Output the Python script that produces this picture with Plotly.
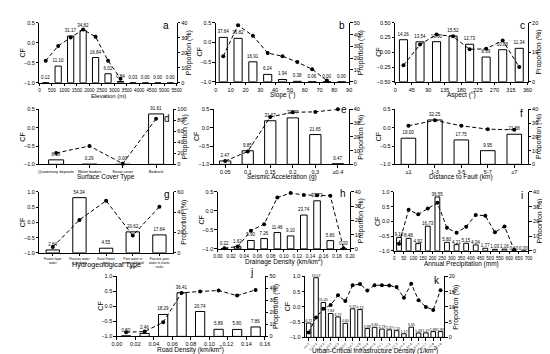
import plotly.graph_objects as go

W, H = 550, 354
FONT = "Liberation Sans, Arial, sans-serif"

# ---------------- data ----------------
elev_x = [250, 750, 1250, 1750, 2250, 2750, 3250, 3750, 4250, 4750, 5250]
elev_prop = [0.12, 11.10, 31.17, 34.82, 16.84, 6.01, 0.84, 0.03, 0.00, 0.00, 0.00]
elev_cf = [-0.45, -0.08, 0.13, 0.33, 0.15, -0.45, -0.90, None, None, None, None]
elev_ticks = list(range(0, 5501, 500))

slope_x = [5, 15, 25, 35, 45, 55, 65, 75, 85]
slope_prop = [37.64, 36.82, 16.91, 6.24, 1.94, 0.38, 0.06, 0.00, 0.00]
slope_cf = [-0.35, 0.44, 0.17, -0.27, -0.35, -0.50, -0.68, -0.97, None]
slope_ticks = list(range(0, 91, 10))

aspect_x = [22.5, 67.5, 112.5, 157.5, 202.5, 247.5, 292.5, 337.5]
aspect_prop = [14.26, 13.54, 13.60, 15.52, 12.73, 8.39, 10.88, 11.34]
aspect_cf = [-0.22, 0.13, 0.30, 0.27, 0.05, 0.06, 0.20, -0.25]
aspect_ticks = list(range(0, 361, 45))

cover_cats = ["Quaternary deposits", "Water bodies", "Snow cover", "Bedrock"]
cover_prop = [8.18, 0.29, 0.00, 91.61]
cover_cf = [-0.69, -0.50, -0.98, 0.24]

seis_cats = ["0.05", "0.1", "0.15", "0.2", "0.3", "≥0.4"]
seis_prop = [2.47, 9.85, 31.67, 33.77, 21.65, 0.47]
seis_cf = [-0.91, -0.65, 0.29, 0.42, 0.43, 0.50]

fault_cats = ["≤1", "1-3", "3-5", "5-7", "≥7"]
fault_prop = [19.00, 32.25, 17.75, 9.95, 21.88]
fault_cf = [0.05, 0.20, 0.05, -0.04, -0.06]

hydro_cats = ["Frozen layer<br>water", "Fracture water<br>in bedrock", "Karst fissure<br>water",
              "Pore water in<br>unconsolidated<br>rocks", "Fracture-pore<br>water in clastic<br>rocks"]
hydro_prop = [2.84, 54.34, 4.55, 20.62, 17.64]
hydro_cf = [-0.81, 0.08, 0.71, -0.43, 0.51]

drain_x = [0.01, 0.03, 0.05, 0.07, 0.09, 0.11, 0.13, 0.15, 0.17, 0.19]
drain_prop = [0.22, 1.62, 5.90, 7.26, 11.46, 9.10, 23.74, 33.73, 5.80, 0.00]
drain_cf = [-0.98, -0.94, -0.52, -0.35, 0.35, 0.47, 0.42, 0.41, 0.40, -0.98]
drain_ticks = [round(0.02 * i, 2) for i in range(11)]

prec_x = [25, 75, 125, 175, 225, 275, 325, 375, 425, 475, 525, 575, 625, 675]
prec_prop = [9.18, 8.48, 4.92, 16.73, 36.55, 5.80, 4.21, 5.15, 4.04, 1.77, 1.03, 1.16, 0.10, 0.00]
prec_cf = [-0.76, 0.39, 0.24, 0.44, 0.63, -0.22, -0.39, -0.18, 0.22, 0.19, -0.37, -0.17, -0.96, None]
prec_ticks = list(range(0, 701, 50))

road_x = [0.01, 0.03, 0.05, 0.07, 0.09, 0.11, 0.13, 0.15]
road_prop = [0.50, 2.46, 18.29, 36.41, 20.74, 5.89, 5.80, 7.86]
road_cf = [-0.86, -0.84, -0.53, 0.45, 0.50, 0.53, 0.36, 0.55]
road_ticks = [round(0.02 * i, 2) for i in range(9)]

urban_cats = ["0-0.1", "0.1-0.2", "0.2-0.3", "0.3-0.4", "0.4-0.5", "0.5-0.6", "0.6-0.7",
              "0.7-0.8", "0.8-0.9", "0.9-1.0", "1.0-1.1", "1.1-1.2", "1.2-1.3", "1.3-1.4",
              "1.4-1.5", "1.5-1.6", "1.6-1.7", "1.7-1.8", "1.8-1.9"]
urban_prop = [4.71, 19.57, 11.45, 7.84, 6.72, 4.60, 9.37, 9.13, 2.88, 3.30, 2.73, 2.47,
              2.20, 1.17, 3.35, 1.43, 1.47, 1.88, 1.89]
urban_cf = [-0.84, -0.35, -0.06, 0.06, 0.38, 0.19, 0.71, 0.75, 0.54, 0.71, 0.71, 0.70,
            0.65, 0.30, 0.76, 0.22, 0.00, -0.10, 0.55]

# ---------------- panels ----------------
panels = [
    dict(x=elev_x, prop=elev_prop, cf=elev_cf, box=(27, 167, 12, 73), xr=[0, 5500],
         tv=elev_ticks, tt=[str(t) for t in elev_ticks], bw=250, pr=[0, 40], pd=10,
         cr=[-1, 0.5], cd=0.5, cfmt=".1f", xt="Elevation (m)", let="a", lp=(156, 15), tfs=4.7, xfs=6),
    dict(x=slope_x, prop=slope_prop, cf=slope_cf, box=(207, 343, 12, 72), xr=[0, 90],
         tv=slope_ticks, tt=[str(t) for t in slope_ticks], bw=5.5, pr=[0, 50], pd=10,
         cr=[-1, 0.5], cd=0.5, cfmt=".1f", xt="Slope (°)", let="b", lp=(336, 15)),
    dict(x=aspect_x, prop=aspect_prop, cf=aspect_cf, box=(390, 525, 12, 72), xr=[0, 360],
         tv=aspect_ticks, tt=[str(t) for t in aspect_ticks], bw=22, pr=[0, 20], pd=10,
         cr=[-0.5, 0.5], cd=0.25, cfmt=".2f", xt="Aspect (°)", let="c", lp=(520, 15)),
    dict(x=list(range(len(cover_cats))), prop=cover_prop, cf=cover_cf, box=(27, 163, 100, 156),
         xr=[-0.5, 3.5], tv=list(range(4)), tt=cover_cats, bw=0.45, pr=[0, 100], pd=20,
         cr=[-1, 0.5], cd=0.5, cfmt=".1f", xt="Surface Cover Type", let="d", lp=(157, 109), tfs=4),
    dict(x=list(range(len(seis_cats))), prop=seis_prop, cf=seis_cf, box=(205, 343, 100, 156),
         xr=[-0.5, 5.5], tv=list(range(6)), tt=seis_cats, bw=0.5, pr=[0, 40], pd=10,
         cr=[-1, 0.5], cd=0.5, cfmt=".1f", xt="Seismic Acceleration (g)", let="e", lp=(338, 100)),
    dict(x=list(range(len(fault_cats))), prop=fault_prop, cf=fault_cf, box=(390, 525, 100, 156),
         xr=[-0.5, 4.5], tv=list(range(5)), tt=fault_cats, bw=0.55, pr=[0, 40], pd=10,
         cr=[-1, 0.5], cd=0.5, cfmt=".1f", xt="Distance to Fault (km)", let="f", lp=(519, 104)),
    dict(x=list(range(len(hydro_cats))), prop=hydro_prop, cf=hydro_cf, box=(27, 163, 184, 246),
         xr=[-0.5, 4.5], tv=list(range(5)), tt=hydro_cats, bw=0.5, pr=[0, 60], pd=20,
         cr=[-1, 1], cd=0.5, cfmt=".1f", xt="Hydrogeological Type", let="g", lp=(157, 187), tfs=3.2,
         xty=258, xfs=7.2),
    dict(x=drain_x, prop=drain_prop, cf=drain_cf, box=(209, 344, 184, 242), xr=[0, 0.2],
         tv=drain_ticks, tt=[f"{t:.2f}" for t in drain_ticks], bw=0.01, pr=[0, 40], pd=10,
         cr=[-1, 0.5], cd=0.5, cfmt=".1f", xt="Drainage Density (km/km<sup>2</sup>)", let="h",
         lp=(337, 186), tfs=4.8),
    dict(x=prec_x, prop=prec_prop, cf=prec_cf, box=(389, 526, 184, 244), xr=[0, 700],
         tv=prec_ticks, tt=[str(t) for t in prec_ticks], bw=25, pr=[0, 40], pd=10,
         cr=[-1, 1], cd=0.5, cfmt=".1f", xt="Annual Precipitation (mm)", let="i", lp=(519, 188), tfs=4.6),
    dict(x=road_x, prop=road_prop, cf=road_cf, box=(106, 257, 270, 331), xr=[0, 0.16],
         tv=road_ticks, tt=[f"{t:.2f}" for t in road_ticks], bw=0.01, pr=[0, 50], pd=10,
         cr=[-1, 1], cd=0.5, cfmt=".1f", xt="Road Density (km/km<sup>2</sup>)", let="j", lp=(243, 266)),
    dict(x=list(range(len(urban_cats))), prop=urban_prop, cf=urban_cf, box=(298, 440, 270, 332),
         xr=[-0.5, 18.5], tv=list(range(len(urban_cats))), tt=urban_cats, bw=0.62, pr=[0, 20], pd=5,
         cr=[-1, 1], cd=0.5, cfmt=".1f", xt="Urban-Critical Infrastructure Density (1/km<sup>2</sup>)",
         let="k", lp=(433, 274), tfs=3, tangle=-45, bls=3.6),
]

fig = go.Figure()
layout = dict(width=W, height=H, margin=dict(l=0, r=0, t=0, b=0), showlegend=False,
              paper_bgcolor="white", plot_bgcolor="rgba(0,0,0,0)",
              font=dict(family=FONT, color="black"), annotations=[])

n = len(panels)
axis_common = dict(showline=True, linecolor="black", linewidth=1, ticks="outside",
                   ticklen=2.5, tickwidth=1, tickcolor="black", showgrid=False, zeroline=False,
                   tickfont=dict(size=5.5, family=FONT, color="black"))


def frange(a, b, d):
    out = []
    v = a
    while v <= b + 1e-9:
        out.append(round(v, 4))
        v += d
    return out


for i, p in enumerate(panels):
    k = i + 1
    ko = n + 1 + i
    x0, x1, yt, yb = p["box"]
    xs = "" if k == 1 else str(k)
    layout[f"xaxis{xs}"] = dict(axis_common, domain=[x0 / W, x1 / W], anchor=f"y{xs}",
                                range=p["xr"], tickmode="array", tickvals=p["tv"], ticktext=p["tt"],
                                tickangle=p.get("tangle", 0),
                                tickfont=dict(size=p.get("tfs", 5.5), family=FONT, color="black"))
    # proportion axis (base, right side)
    layout[f"yaxis{xs}"] = dict(axis_common, domain=[1 - yb / H, 1 - yt / H], anchor=f"x{xs}",
                                side="right", range=p["pr"], tickmode="array",
                                tickvals=frange(p["pr"][0], p["pr"][1], p["pd"]))
    # CF axis (overlay, left side)
    layout[f"yaxis{ko}"] = dict(axis_common, overlaying=f"y{xs}", anchor=f"x{xs}", side="left",
                                range=p["cr"], tickmode="array",
                                tickvals=frange(p["cr"][0], p["cr"][1], p["cd"]), tickformat=p["cfmt"])
    fig.add_trace(go.Bar(x=p["x"], y=p["prop"], width=p["bw"], xaxis=f"x{xs}", yaxis=f"y{xs}",
                         marker=dict(color="white", line=dict(color="black", width=1)),
                         text=[f"{v:.2f}" for v in p["prop"]], textposition="outside",
                         textfont=dict(size=p.get("bls", 4.5), family=FONT, color="black"),
                         constraintext="none", cliponaxis=False, hoverinfo="skip"))
    fig.add_trace(go.Scatter(x=p["x"], y=p["cf"], xaxis=f"x{xs}", yaxis=f"y{ko}", mode="lines+markers",
                             line=dict(color="black", width=1, dash="4px,2.5px"),
                             marker=dict(color="black", size=4), cliponaxis=False, hoverinfo="skip"))
    cx = (x0 + x1) / 2
    xty = p.get("xty", yb + 13)
    layout["annotations"] += [
        dict(text=p["xt"], x=cx / W, y=1 - xty / H, xref="paper", yref="paper", showarrow=False,
             xanchor="center", yanchor="middle", font=dict(size=p.get("xfs", 6.5), family=FONT)),
        dict(text="CF", x=(x0 - 17) / W, y=1 - ((yt + yb) / 2) / H, xref="paper", yref="paper",
             showarrow=False, textangle=-90, xanchor="center", yanchor="middle", font=dict(size=7, family=FONT)),
        dict(text="Proportion (%)", x=(x1 + 12) / W, y=1 - ((yt + yb) / 2) / H, xref="paper", yref="paper",
             showarrow=False, textangle=-90, xanchor="center", yanchor="middle", font=dict(size=7, family=FONT)),
        dict(text=p["let"], x=p["lp"][0] / W, y=1 - p["lp"][1] / H, xref="paper", yref="paper",
             showarrow=False, xanchor="center", yanchor="middle", font=dict(size=10, family=FONT)),
    ]

fig.update_layout(**layout)
fig.write_html("out.html")
